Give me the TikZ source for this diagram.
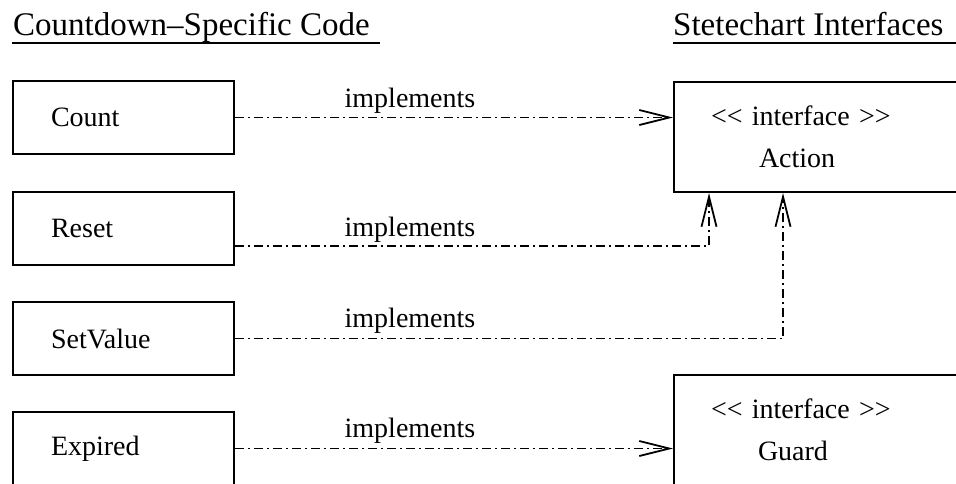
\documentclass[tikz,border=0pt]{standalone}
\usepackage{fontspec}
\setmainfont{Liberation Serif}
\usetikzlibrary{arrows.meta}
\newcommand\bodysize{\fontsize{28}{42}\selectfont}
\newcommand\headsize{\fontsize{33}{40}\selectfont}
\tikzset{
  codebox/.style={draw, line width=2pt, rectangle, anchor=north west, minimum height=73pt,
    text width=145pt, inner xsep=38pt, inner ysep=0pt, align=left, font=\bodysize},
  ifacebox/.style={draw, line width=2pt, rectangle, anchor=north west, minimum height=110pt,
    text width=253pt, inner xsep=37pt, inner ysep=0pt, align=left, font=\bodysize},
  impl/.style={line width=1.8pt, dash pattern=on 9pt off 4pt on 2pt off 4pt,
    -{Straight Barb[length=30pt,width=15pt,line width=1.8pt]}},
  impllabel/.style={anchor=base, font=\bodysize, inner sep=0pt},
  heading/.style={anchor=base west, font=\headsize, inner sep=0pt},
  uline/.style={line width=2.2pt}
}
\begin{document}
\begin{tikzpicture}[x=1pt,y=-1pt]
\useasboundingbox (0,0) rectangle (956,483);
\fill[white] (0,0) rectangle (956,483);

% headings
\node[heading] (h1) at (13,35) {Countdown–Specific Code};
\node[heading] (h2) at (673,35) {Stetechart Interfaces};
\draw[uline] ([shift={(-1,8)}]h1.base west) -- ([shift={(10,8)}]h1.base east);
\draw[uline] ([shift={(0,8)}]h2.base west) -- ([shift={(30,8)}]h2.base east);

% code boxes
\node[codebox] (count) at (12,80) {Count};
\node[codebox] (reset) at (12,191) {Reset};
\node[codebox] (setvalue) at (12,301) {SetValue};
\node[codebox] (expired) at (12,411) {Expired};

% interface boxes
\node[ifacebox] (action) at (673,81) {<{}< interface >{}>\\\hspace{48pt}Action};
\node[ifacebox] (guard) at (673,374) {<{}< interface >{}>\\\hspace{47pt}Guard};

% connectors
\coordinate (rc) at (709,246);
\coordinate (sc) at (783,337.5);
\draw[impl] (count.east) -- (count.east -| action.west);
\draw[impl] (reset.east |- rc) -| (rc |- action.south);
\draw[impl] (setvalue.east) -| (sc |- action.south);
\draw[impl] (expired.east) -- (expired.east -| guard.west);

% labels
\node[impllabel] (l1) at (410,107) {implements};
\node[impllabel] (l2) at (410,236.5) {implements};
\node[impllabel] (l3) at (410,327) {implements};
\node[impllabel] (l4) at (410,437.5) {implements};
\end{tikzpicture}
\end{document}
